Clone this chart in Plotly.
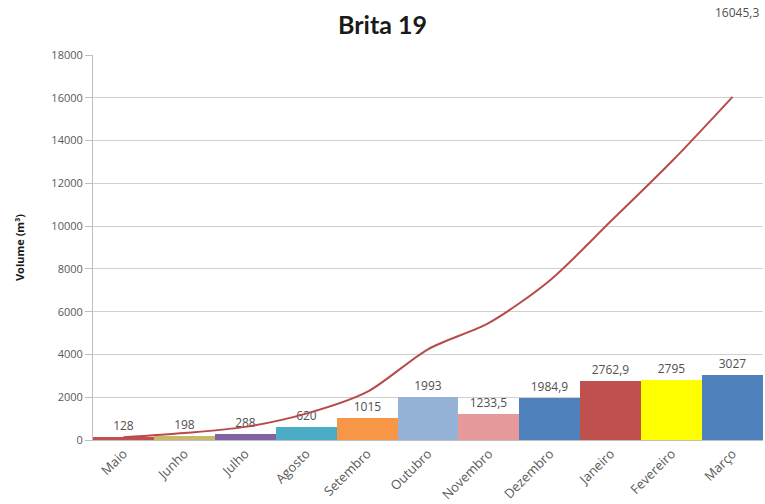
import plotly.graph_objects as go

months = ["Maio", "Junho", "Julho", "Agosto", "Setembro", "Outubro",
          "Novembro", "Dezembro", "Janeiro", "Fevereiro", "Março"]
monthly = [128, 198, 288, 620, 1015, 1993, 1233.5, 1984.9, 2762.9, 2795, 3027]
cumulative = [128, 326, 614, 1234, 2249, 4242, 5475.5, 7460.4, 10223.3, 13018.3, 16045.3]
bar_colors = ["#C0504D", "#C9B96B", "#8064A2", "#4BACC6", "#F79646", "#95B3D7",
              "#E6999A", "#4F81BD", "#C0504D", "#FFFF00", "#4F81BD"]
y_ticks = [0, 2000, 4000, 6000, 8000, 10000, 12000, 14000, 16000, 18000]

FONT = "Open Sans, sans-serif"


def fmt(v):
    s = ("%g" % v)
    return s.replace(".", ",")


fig = go.Figure()
fig.add_trace(go.Bar(
    x=months, y=monthly, marker=dict(color=bar_colors, line=dict(width=0)),
    text=[fmt(v) for v in monthly], textposition="outside",
    textfont=dict(family=FONT, size=12, color="#505050"),
    cliponaxis=False, showlegend=False,
))
fig.add_trace(go.Scatter(
    x=months, y=cumulative, mode="lines",
    line=dict(color="#B84A4A", width=2, shape="spline", smoothing=0.8),
    showlegend=False,
))
fig.add_annotation(
    x=months[-1], y=cumulative[-1], text=fmt(cumulative[-1]),
    showarrow=False, yshift=84, xshift=4,
    font=dict(family=FONT, size=12, color="#505050"),
)

fig.update_layout(
    width=765, height=504,
    margin=dict(l=93, r=2, t=55, b=64),
    paper_bgcolor="white", plot_bgcolor="white",
    bargap=0,
    title=dict(text="<b>Brita 19</b>", x=0.5, xanchor="center", y=0.95, yanchor="middle",
               font=dict(family="Lato, sans-serif", size=25, color="#1a1a1a")),
    xaxis=dict(
        tickangle=-45, showgrid=False, showline=True, linecolor="#BFBFBF",
        tickfont=dict(family=FONT, size=13, color="#595959"),
    ),
    yaxis=dict(
        range=[0, 18000], tickvals=y_ticks, ticktext=[str(t) for t in y_ticks],
        showgrid=True, gridcolor="#D0D0D0", gridwidth=1,
        showline=True, linecolor="#BFBFBF", ticks="outside", ticklen=7, tickcolor="#BFBFBF",
        zeroline=False,
        tickfont=dict(family=FONT, size=11, color="#595959"),
        title=dict(text="<b>Volume (m³)</b>", standoff=24,
                   font=dict(family=FONT, size=11, color="#1a1a1a")),
    ),
)

fig.write_html("out.html")
